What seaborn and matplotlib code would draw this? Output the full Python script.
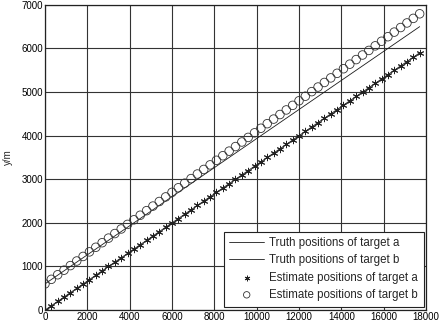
import matplotlib
matplotlib.use("Agg")
import matplotlib.pyplot as plt
import seaborn as sns
import pandas as pd

# sample positions along x (m)
x_pos = [0, 300, 600, 900, 1200, 1500, 1800, 2100, 2400, 2700,
         3000, 3300, 3600, 3900, 4200, 4500, 4800, 5100, 5400, 5700,
         6000, 6300, 6600, 6900, 7200, 7500, 7800, 8100, 8400, 8700,
         9000, 9300, 9600, 9900, 10200, 10500, 10800, 11100, 11400, 11700,
         12000, 12300, 12600, 12900, 13200, 13500, 13800, 14100, 14400, 14700,
         15000, 15300, 15600, 15900, 16200, 16500, 16800, 17100, 17400, 17700]

# estimated y positions (m)
est_a = [0, 100, 200, 300, 400, 500, 600, 700, 800, 900,
         1000, 1100, 1200, 1300, 1400, 1500, 1600, 1700, 1800, 1900,
         2000, 2100, 2200, 2300, 2400, 2500, 2600, 2700, 2800, 2900,
         3000, 3100, 3200, 3300, 3400, 3500, 3600, 3700, 3800, 3900,
         4000, 4100, 4200, 4300, 4400, 4500, 4600, 4700, 4800, 4900,
         5000, 5100, 5200, 5300, 5400, 5500, 5600, 5700, 5800, 5900]
est_b = [600, 705, 810, 915, 1020, 1125, 1230, 1335, 1440, 1545,
         1650, 1755, 1860, 1965, 2070, 2175, 2280, 2385, 2490, 2595,
         2700, 2805, 2910, 3015, 3120, 3225, 3330, 3435, 3540, 3645,
         3750, 3855, 3960, 4065, 4170, 4275, 4380, 4485, 4590, 4695,
         4800, 4905, 5010, 5115, 5220, 5325, 5430, 5535, 5640, 5745,
         5850, 5955, 6060, 6165, 6270, 6375, 6480, 6585, 6690, 6795]

# truth tracks (straight lines)
truth_x = [0, 17700]
truth_a = [0, 5900]
truth_b = [600, 6500]

sns.set_theme(style="whitegrid")
plt.rcParams['font.family'] = ['Liberation Sans', 'DejaVu Sans']

fig = plt.figure(figsize=(4.41, 3.24), dpi=100)
ax = fig.add_axes([0.102, 0.043, 0.864, 0.942])

truth_df = pd.DataFrame({'x': truth_x, 'a': truth_a, 'b': truth_b})
est_df = pd.DataFrame({'x': x_pos, 'a': est_a, 'b': est_b})

sns.lineplot(data=truth_df, x='x', y='a', ax=ax, color='k', linewidth=0.6,
             label='Truth positions of target a')
sns.lineplot(data=truth_df, x='x', y='b', ax=ax, color='k', linewidth=0.6,
             label='Truth positions of target b')
sns.scatterplot(data=est_df, x='x', y='a', ax=ax, marker=(6, 2, 0), s=22,
                color='#222222', linewidth=0.7, zorder=3,
                label='Estimate positions of target a')
sns.scatterplot(data=est_df, x='x', y='b', ax=ax, marker='o', s=38,
                facecolor='none', edgecolor='#333333', linewidth=0.6, zorder=3,
                label='Estimate positions of target b')

ax.set_xlim(0, 18000)
ax.set_ylim(0, 7000)
ax.set_xticks(range(0, 18001, 2000))
ax.set_yticks(range(0, 7001, 1000))
ax.grid(True, color='#333333', linewidth=0.8, linestyle='-')
for sp in ax.spines.values():
    sp.set_color('#222222')
    sp.set_linewidth(0.9)
ax.tick_params(labelsize=7, pad=1.5, length=0, colors='black')
ax.set_xlabel('')
ax.set_ylabel('y/m', fontsize=7, labelpad=6)

leg = ax.legend(loc='lower right', bbox_to_anchor=(1.003, 0.0), fontsize=8.3,
                frameon=True, fancybox=False, framealpha=1, edgecolor='#222222',
                borderpad=0.5, labelspacing=0.45, handlelength=3.0,
                handletextpad=0.45, borderaxespad=0.3, scatterpoints=1,
                markerscale=0.75)
leg.get_frame().set_linewidth(0.8)

plt.savefig("out.png", dpi=100)
plt.close()
